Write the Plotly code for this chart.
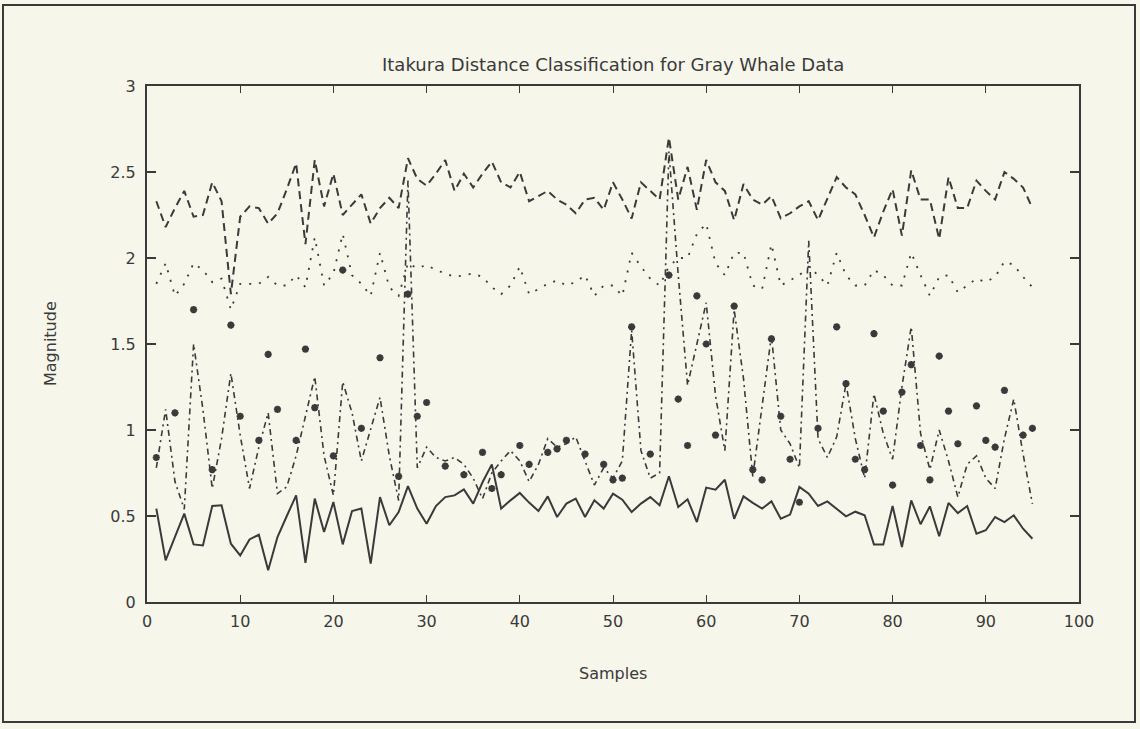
import plotly.graph_objects as go

samples = list(range(1, 96))

solid = [0.543,0.242,0.378,0.514,0.335,0.329,0.558,0.562,0.339,0.271,0.364,0.391,0.184,0.378,0.500,0.620,0.227,0.601,0.407,0.581,0.335,0.529,0.543,0.223,0.610,
         0.446,0.523,0.674,0.543,0.455,0.558,0.610,0.620,0.655,0.572,0.696,0.800,0.543,0.591,0.634,0.578,0.529,0.614,0.494,0.572,0.601,0.494,0.591,0.543,0.630,
         0.595,0.523,0.572,0.610,0.562,0.731,0.552,0.597,0.465,0.665,0.653,0.711,0.484,0.614,0.576,0.543,0.585,0.484,0.508,0.669,0.630,0.558,0.585,0.543,0.498,
         0.525,0.504,0.335,0.335,0.558,0.320,0.591,0.452,0.556,0.382,0.576,0.517,0.558,0.397,0.417,0.494,0.465,0.504,0.426,0.368]

dashed = [2.33,2.18,2.29,2.39,2.24,2.25,2.44,2.33,1.79,2.24,2.30,2.29,2.20,2.26,2.40,2.55,2.08,2.57,2.30,2.49,2.25,2.31,2.37,2.20,2.29,
          2.35,2.29,2.58,2.46,2.42,2.49,2.57,2.39,2.49,2.41,2.49,2.56,2.44,2.41,2.50,2.33,2.36,2.39,2.34,2.31,2.26,2.34,2.35,2.28,2.44,
          2.34,2.23,2.44,2.39,2.34,2.70,2.34,2.53,2.28,2.57,2.44,2.39,2.22,2.43,2.34,2.31,2.36,2.23,2.26,2.30,2.33,2.22,2.34,2.47,2.41,
          2.37,2.25,2.12,2.27,2.40,2.13,2.51,2.34,2.34,2.11,2.47,2.29,2.29,2.45,2.39,2.34,2.50,2.46,2.41,2.29]

dotted = [1.85,1.97,1.78,1.85,1.97,1.93,1.86,1.88,1.70,1.85,1.85,1.85,1.89,1.84,1.84,1.90,1.83,2.12,1.84,1.91,2.14,1.90,1.85,1.78,2.03,
          1.83,1.78,1.97,1.94,1.96,1.93,1.91,1.89,1.90,1.91,1.89,1.83,1.79,1.84,1.95,1.79,1.82,1.85,1.87,1.84,1.86,1.90,1.78,1.84,1.84,
          1.78,2.03,1.95,1.88,1.84,1.95,2.00,2.00,2.14,2.20,1.97,1.90,2.03,2.03,1.84,1.82,2.08,1.84,1.87,1.90,1.95,1.90,1.84,2.03,1.90,
          1.84,1.84,1.93,1.90,1.84,1.84,2.03,1.90,1.78,1.89,1.90,1.80,1.84,1.88,1.86,1.89,1.98,1.96,1.89,1.83]

dashdot = [0.78,1.12,0.70,0.54,1.50,1.12,0.66,0.95,1.33,0.97,0.66,0.90,1.10,0.63,0.67,0.85,1.08,1.31,0.85,0.62,1.28,1.10,0.82,1.00,1.19,
           0.85,0.59,2.45,0.78,0.90,0.84,0.82,0.84,0.80,0.72,0.60,0.75,0.82,0.88,0.82,0.70,0.80,0.95,0.90,0.92,0.96,0.82,0.68,0.78,0.72,
           0.82,1.58,0.88,0.72,0.75,2.62,1.90,1.26,1.50,1.74,1.20,0.88,1.70,1.30,0.73,1.15,1.55,1.00,0.92,0.78,2.10,0.95,0.84,0.96,1.27,
           0.95,0.72,1.21,0.98,0.83,1.25,1.60,0.98,0.77,1.00,0.82,0.61,0.80,0.85,0.72,0.66,0.95,1.18,0.86,0.57]

marker_samples = [1,3,5,7,9,10,12,13,14,16,17,18,20,21,23,25,27,28,29,30,32,34,36,37,38,40,41,43,44,45,47,49,50,51,52,54,56,57,58,59,60,61,63,65,66,67,68,69,70,72,74,75,76,77,78,79,80,81,82,83,84,85,86,87,89,90,91,92,94,95]
marker_values = [0.84,1.10,1.70,0.77,1.61,1.08,0.94,1.44,1.12,0.94,1.47,1.13,0.85,1.93,1.01,1.42,0.73,1.79,1.08,1.16,0.79,0.74,0.87,0.66,0.74,0.91,0.80,0.87,0.89,0.94,0.86,0.80,0.71,0.72,1.60,0.86,1.90,1.18,0.91,1.78,1.50,0.97,1.72,0.77,0.71,1.53,1.08,0.83,0.58,1.01,1.60,1.27,0.83,0.77,1.56,1.11,0.68,1.22,1.38,0.91,0.71,1.43,1.11,0.92,1.14,0.94,0.90,1.23,0.97,1.01]

x_ticks = [0, 10, 20, 30, 40, 50, 60, 70, 80, 90, 100]
y_ticks = [0, 0.5, 1, 1.5, 2, 2.5, 3]
y_tick_text = ["0", "0.5", "1", "1.5", "2", "2.5", "3"]

INK = "#3a3a3a"
BG = "#f7f6ea"
FONT = "DejaVu Sans"

fig = go.Figure()
fig.add_trace(go.Scatter(x=samples, y=solid, mode="lines",
                         line=dict(color=INK, width=2)))
fig.add_trace(go.Scatter(x=samples, y=dashed, mode="lines",
                         line=dict(color=INK, width=2, dash="8px,5px")))
fig.add_trace(go.Scatter(x=samples, y=dotted, mode="lines",
                         line=dict(color=INK, width=1.8, dash="2px,8px")))
fig.add_trace(go.Scatter(x=samples, y=dashdot, mode="lines",
                         line=dict(color=INK, width=1.6, dash="6px,4px,2px,4px")))
fig.add_trace(go.Scatter(x=marker_samples, y=marker_values, mode="markers",
                         marker=dict(symbol="asterisk-open", size=6, color=INK,
                                     line=dict(color=INK, width=2.2))))

L, R, T, B = 147, 61, 86, 127
W, H = 1140, 729
pw, ph = W - L - R, H - T - B

def px_x(p):
    return (p - L) / pw

def px_y(p):
    return (H - B - p) / ph

fig.update_layout(
    width=W, height=H,
    margin=dict(l=L, r=R, t=T, b=B, pad=0),
    paper_bgcolor=BG, plot_bgcolor=BG,
    showlegend=False,
    font=dict(family=FONT, color=INK, size=16),
    xaxis=dict(range=[0, 100], tickvals=x_ticks, ticks="inside", ticklen=7,
               tickwidth=1.2, tickcolor=INK, showline=True, linewidth=2,
               linecolor=INK, mirror="allticks", showgrid=False, zeroline=False,
               tickfont=dict(size=16, family=FONT, color=INK), ticklabelstandoff=4),
    yaxis=dict(range=[0, 3], tickvals=y_ticks, ticktext=y_tick_text, ticks="inside",
               ticklen=9, tickwidth=1.5, tickcolor=INK, showline=True, linewidth=2,
               linecolor=INK, mirror="allticks", showgrid=False, zeroline=False,
               tickfont=dict(size=16, family=FONT, color=INK), ticklabelstandoff=6),
    annotations=[
        dict(text="Itakura Distance Classification for Gray Whale Data",
             xref="paper", yref="paper", x=px_x(613), y=px_y(65),
             xanchor="center", yanchor="middle", showarrow=False,
             font=dict(size=18, family=FONT, color=INK)),
        dict(text="Samples", xref="paper", yref="paper", x=px_x(613), y=px_y(673),
             xanchor="center", yanchor="middle", showarrow=False,
             font=dict(size=16, family=FONT, color=INK)),
        dict(text="Magnitude", xref="paper", yref="paper", x=px_x(50), y=px_y(344),
             xanchor="center", yanchor="middle", showarrow=False, textangle=-90,
             font=dict(size=16, family=FONT, color=INK)),
    ],
    shapes=[
        dict(type="rect", xref="paper", yref="paper",
             x0=px_x(3), x1=px_x(1135), y0=px_y(722), y1=px_y(5),
             line=dict(color=INK, width=2), fillcolor="rgba(0,0,0,0)", layer="below"),
    ],
)

fig.write_html("out.html")
